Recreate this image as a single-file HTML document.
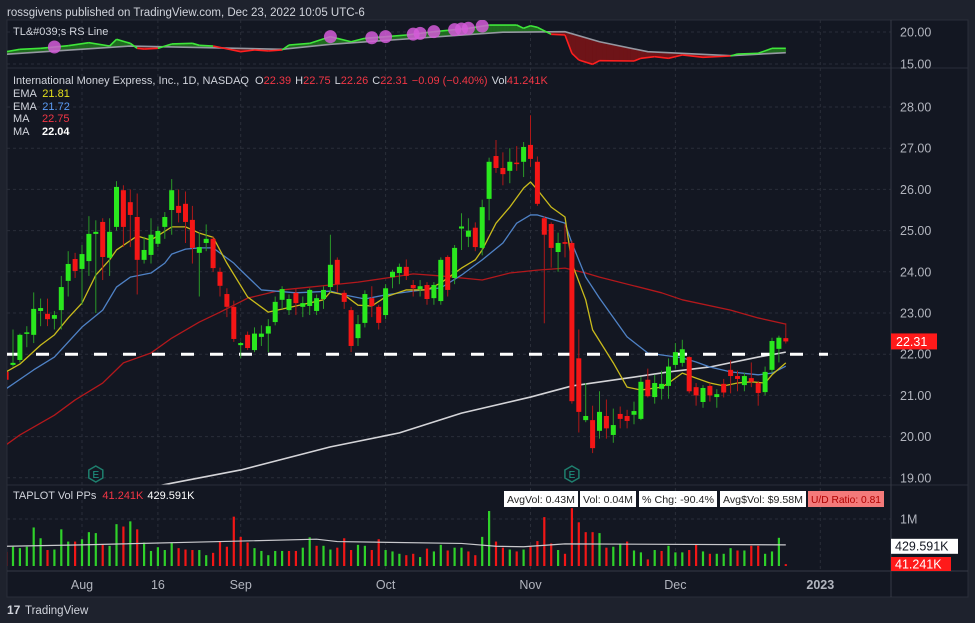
<!DOCTYPE html>
<html><head><meta charset="utf-8">
<style>
html,body{margin:0;padding:0;background:#1e222d;width:975px;height:623px;overflow:hidden;font-family:"Liberation Sans",sans-serif;}
svg text{font-family:"Liberation Sans",sans-serif;}
</style></head>
<body>
<svg id="chart" width="975" height="623" xmlns="http://www.w3.org/2000/svg">
  <rect x="0" y="0" width="975" height="623" fill="#1e222d"/>
  <text x="7" y="16" font-size="11.5" fill="#d1d4dc">rossgivens published on TradingView.com, Dec 23, 2022 10:05 UTC-6</text>
  <rect x="7" y="20" width="961" height="577" fill="#131722" stroke="#2a2e39"/>
  <g id="grid"></g>
  <g id="rs"></g>
  <g id="main"></g>
  <g id="vol"></g>
  <line x1="7" y1="68" x2="968" y2="68" stroke="#2a2e39"/>
  <line x1="7" y1="485" x2="968" y2="485" stroke="#2a2e39"/>
  <line x1="7" y1="571" x2="968" y2="571" stroke="#363a45"/>
  <line x1="891" y1="20" x2="891" y2="597" stroke="#363a45"/>
  <g id="axes"></g>
  <text x="13" y="35" font-size="11" fill="#d1d4dc">TL&amp;#039;s RS Line</text>
  <text x="13" y="84" font-size="11" fill="#d1d4dc">International Money Express, Inc., 1D, NASDAQ <tspan dx="3">O</tspan><tspan fill="#f23645">22.39</tspan><tspan dx="4">H</tspan><tspan fill="#f23645">22.75</tspan><tspan dx="4">L</tspan><tspan fill="#f23645">22.26</tspan><tspan dx="4">C</tspan><tspan fill="#f23645">22.31</tspan><tspan dx="4" fill="#f23645">−0.09 (−0.40%)</tspan><tspan dx="4">Vol</tspan><tspan fill="#f23645">41.241K</tspan></text>
  <text x="13" y="97" font-size="11" fill="#d1d4dc">EMA <tspan dx="3" fill="#e5e01c">21.81</tspan></text>
  <text x="13" y="110" font-size="11" fill="#d1d4dc">EMA <tspan dx="3" fill="#5b9cf6">21.72</tspan></text>
  <text x="13" y="122" font-size="11" fill="#d1d4dc">MA <tspan dx="10" fill="#f23645">22.75</tspan></text>
  <text x="13" y="135" font-size="11" fill="#d1d4dc">MA <tspan dx="10" fill="#ffffff" font-weight="bold">22.04</tspan></text>
  <text x="13" y="499" font-size="11" fill="#d1d4dc">TAPLOT Vol PPs <tspan dx="3" fill="#f23645">41.241K</tspan><tspan dx="4" fill="#ffffff">429.591K</tspan></text>
  <g font-size="10.5">
    <rect x="504" y="491" width="74" height="16" fill="#ffffff"/>
    <text x="507" y="503" fill="#222" textLength="68" lengthAdjust="spacingAndGlyphs">AvgVol: 0.43M</text>
    <rect x="580" y="491" width="56" height="16" fill="#ffffff"/>
    <text x="583" y="503" fill="#222" textLength="50" lengthAdjust="spacingAndGlyphs">Vol: 0.04M</text>
    <rect x="639" y="491" width="78" height="16" fill="#ffffff"/>
    <text x="642" y="503" fill="#222" textLength="72" lengthAdjust="spacingAndGlyphs">% Chg: -90.4%</text>
    <rect x="720" y="491" width="86" height="16" fill="#ffffff"/>
    <text x="723" y="503" fill="#222" textLength="80" lengthAdjust="spacingAndGlyphs">Avg$Vol: $9.58M</text>
    <rect x="808" y="491" width="76" height="16" fill="#f47a7a"/>
    <text x="811" y="503" fill="#b00000" textLength="70" lengthAdjust="spacingAndGlyphs">U/D Ratio: 0.81</text>
  </g>
  <g>
    <text x="7" y="614" font-size="12" font-weight="bold" fill="#d1d4dc">17</text>
    <text x="25" y="614" font-size="11.5" fill="#d1d4dc">TradingView</text>
  </g>
</svg>
<script>
// ---- data ----
const startIndex = -11; // bar index of first candle (0 = Aug 1)
const opens  = [21.57,21.74,21.86,22.5,22.47,23.05,22.98,22.86,23.07,23.78,24.31,24.07,24.26,24.92,25.21,24.34,25.09,25.98,25.69,25.33,24.29,24.41,24.68,25.09,25.5,25.6,25.65,25.26,24.46,24.7,24.8,24.0,23.46,23.15,22.22,22.47,22.1,22.42,22.5,22.78,23.32,23.07,23.49,23.15,23.17,23.05,23.34,23.63,24.29,23.49,23.07,22.39,22.76,23.36,23.15,22.95,23.87,23.97,24.12,23.68,23.58,23.68,23.36,23.29,24.36,23.85,25.05,24.85,25.07,24.58,25.77,26.81,26.52,26.45,26.65,26.67,27.08,26.67,25.3,25.16,24.48,24.72,24.7,21.9,20.4,20.4,20.14,20.5,20.04,20.55,20.5,20.53,20.43,21.38,20.96,21.16,21.23,21.74,21.79,21.93,21.2,20.84,21.23,20.96,21.28,21.62,21.47,21.25,21.42,21.3,21.08,21.62,22.13,22.39];
const highs  = [21.6,22.6,22.5,22.68,23.5,23.35,23.35,23.05,23.9,24.5,24.46,24.65,25.35,25.25,25.3,25.3,26.2,26.1,26.0,25.9,24.85,25.3,25.1,25.45,26.25,26.0,25.95,25.6,24.95,25.15,24.85,24.1,23.6,23.3,22.3,22.55,22.65,22.7,22.85,23.4,23.65,23.45,23.6,23.4,23.6,23.45,23.65,24.9,24.35,23.55,23.15,22.95,23.55,23.65,23.2,23.7,24.05,24.2,24.3,23.8,23.8,23.75,23.75,24.35,24.4,24.65,25.42,25.3,25.2,25.75,26.77,27.2,26.9,27.0,27.05,27.15,27.8,26.8,25.35,25.2,24.95,25.15,24.75,22.6,21.3,20.75,21.1,20.9,20.68,20.73,20.65,20.85,21.45,21.65,21.5,21.6,21.9,22.27,22.35,21.95,21.3,21.25,21.3,21.15,21.4,21.85,21.6,21.55,21.8,21.35,21.7,22.4,22.45,22.75];
const lows   = [21.35,21.7,21.8,22.17,22.27,22.68,22.68,22.6,22.6,23.4,23.85,23.2,23.9,23.0,23.8,23.9,25.0,24.6,24.6,23.45,24.2,24.2,24.6,24.8,24.9,25.2,24.7,24.2,23.4,24.5,24.0,23.4,22.9,22.3,21.9,22.1,22.05,22.2,22.05,22.7,23.1,22.95,22.95,22.9,22.95,22.95,23.1,23.5,23.5,23.1,22.05,22.2,22.65,22.9,22.6,22.85,23.6,23.7,23.8,23.4,23.4,23.2,23.2,23.2,23.4,23.7,24.53,24.6,24.5,24.4,25.25,26.4,26.1,26.15,26.45,26.3,26.55,25.6,22.75,24.1,24.0,24.35,20.8,20.1,20.35,19.6,19.95,19.95,19.85,20.2,20.2,20.3,20.4,20.95,20.8,20.9,20.92,21.65,21.7,21.05,20.75,20.7,20.85,20.7,20.95,21.05,21.1,21.1,21.2,20.75,21.0,21.55,21.8,22.26];
const closes = [21.38,21.79,22.47,22.53,23.1,23.12,22.85,22.95,23.63,24.19,24.02,24.43,24.92,24.97,24.36,24.97,26.06,25.09,25.38,24.29,24.53,24.9,24.99,25.33,25.98,25.43,25.21,24.58,24.6,24.8,24.09,23.66,23.15,22.37,22.27,22.15,22.5,22.5,22.68,23.27,23.58,23.34,23.24,23.24,23.56,23.36,23.56,24.17,23.7,23.27,22.2,22.73,23.46,23.17,22.76,23.6,24.0,24.12,23.9,23.6,23.65,23.34,23.68,24.29,23.56,24.58,25.1,25.0,24.6,25.57,26.67,26.52,26.37,26.67,26.62,27.03,26.74,25.65,24.9,24.58,24.7,24.68,20.86,20.6,20.5,19.72,20.6,20.2,20.28,20.43,20.38,20.62,21.33,20.98,21.3,21.28,21.7,22.05,22.12,21.1,21.0,21.18,21.0,21.03,21.07,21.47,21.4,21.47,21.33,21.06,21.57,22.32,22.4,22.31];
const volumesM = [0.30,0.41,0.38,0.41,0.82,0.59,0.34,0.35,0.78,0.52,0.52,0.57,0.72,0.70,0.45,0.43,0.89,0.84,0.95,0.78,0.50,0.32,0.40,0.34,0.50,0.38,0.35,0.34,0.34,0.23,0.28,0.53,0.41,1.05,0.62,0.50,0.38,0.32,0.23,0.32,0.32,0.32,0.32,0.39,0.61,0.43,0.43,0.35,0.39,0.59,0.34,0.45,0.43,0.34,0.57,0.34,0.31,0.26,0.23,0.26,0.19,0.37,0.31,0.45,0.33,0.39,0.39,0.31,0.23,0.62,1.17,0.52,0.39,0.35,0.31,0.35,0.43,0.53,1.04,0.48,0.34,0.26,1.23,0.93,0.72,0.72,0.70,0.39,0.41,0.48,0.52,0.33,0.29,0.14,0.34,0.32,0.43,0.29,0.29,0.34,0.45,0.31,0.26,0.26,0.26,0.38,0.33,0.33,0.43,0.43,0.26,0.31,0.60,0.04];
const avgVolIdx = [-11,0,20,34,37,55,60,64,70,102];
const avgVolVal = [0.42,0.45,0.52,0.57,0.52,0.48,0.42,0.41,0.47,0.45];

const emaFastIdx = [-11,-9,-6,-4,-2,0,2,4,5,8,10,13,15,17,19,21,24,27,31,35,36,38,40,42,44,47,50,52,55,57,58,60,62,64,65,66,68,70,71,73,74,77,79,81,84,85,87,89,91,93,95,97,99,100,102];
const emaFastVal = [21.57,21.76,22.22,22.47,22.88,23.24,23.92,24.29,24.53,24.87,24.77,25.09,25.09,24.94,24.84,24.21,23.39,23.02,23.17,23.32,23.51,23.44,23.19,23.17,23.39,23.56,23.56,23.73,24.09,24.29,24.53,25.18,25.57,26.03,26.18,25.99,25.57,25.33,24.21,23.32,22.59,21.79,21.2,21.13,21.2,21.3,21.54,21.42,21.3,21.23,21.3,21.33,21.3,21.5,21.79];
const emaSlowIdx = [-11,-7,-4,0,3,5,7,10,12,13,15,17,19,22,23,26,31,36,38,41,44,48,52,55,58,61,63,65,66,70,71,73,75,79,82,87,89,91,94,98,100,102];
const emaSlowVal = [21.16,21.62,21.93,22.66,23.07,23.63,23.87,23.97,24.21,24.43,24.55,24.58,24.58,24.21,24.04,23.56,23.49,23.53,23.44,23.34,23.44,23.53,23.61,23.92,24.29,24.7,25.18,25.38,25.38,25.18,24.7,23.87,23.36,22.42,22.03,21.91,21.81,21.69,21.57,21.5,21.54,21.71];
const ma50Idx = [-11,-9,-4,-1,3,6,10,13,17,20,24,29,36,40,45,48,52,58,62,66,70,73,75,84,87,94,98,102];
const ma50Val = [19.8,20.04,20.52,20.89,21.3,21.79,22.03,22.39,22.78,23.02,23.36,23.56,23.68,23.75,23.87,23.95,23.9,23.8,23.97,24.04,24.09,23.97,23.87,23.49,23.32,23.07,22.88,22.73];
const ma200Idx = [5,13,23,36,46,55,65,71,79,85,91,98,102];
const ma200Val = [18.6,18.87,19.19,19.75,20.09,20.57,20.96,21.23,21.42,21.57,21.69,21.93,22.05];
const supportLevel = 22.0;

const rsIdx = [-11,-9,-6,-2,1,4,5,7,8,9,11,13,16,17,19,23,25,27,29,30,33,36,39,41,44,47,51,56,59,63,64,65,66,68,70,71,72,74,75,80,81,83,85,87,90,94,95,98,100,102];
const rsVal = [16.92,17.30,17.45,17.86,18.33,17.81,18.86,18.23,17.45,17.34,17.45,18.13,18.23,17.92,17.81,16.92,17.19,17.03,17.19,17.97,18.23,19.27,18.48,19.02,19.27,19.53,20.05,20.58,21.09,21.09,20.58,20.98,20.73,19.64,19.53,16.67,15.63,14.95,15.52,15.47,15.89,16.14,15.89,16.41,16.05,16.25,16.56,16.67,17.45,17.45];
const rsMaIdx = [-11,7,29,36,61,70,75,82,94,102];
const rsMaVal = [16.52,17.81,17.30,18.08,19.97,20.05,18.48,16.92,16.30,16.77];
const rsHighIdx = [-4,36,42,44,48,49,51,54,55,56,58];

const priceTicks = [28,27,26,25,24,23,22,21,20,19];
const rsTicks = [20,15];
const volTicks = [1];
const timeLabels = ["Aug","16","Sep","Oct","Nov","Dec","2023"];
const timeLabelIdx = [0,11,23,44,65,86,107];
const earningsIdx = [2,71];

// ---- scales ----
const X = i => 82 + 6.9*i;
const YP = p => 107 + (28-p)*41.2;
const YR = v => 32 + (20-v)*6.4;
const YV = m => 566 - m*47;
const NS = "http://www.w3.org/2000/svg";
function mk(tag, attrs, parent){ const e=document.createElementNS(NS,tag); for(const k in attrs) e.setAttribute(k,attrs[k]); parent.appendChild(e); return e; }
const svg = document.getElementById('chart');
const defs = mk('defs',{},svg);
const c1 = mk('clipPath',{id:'cRS'},defs); mk('rect',{x:7,y:20,width:884,height:48},c1);
const c2 = mk('clipPath',{id:'cMain'},defs); mk('rect',{x:7,y:68,width:884,height:417},c2);
const c3 = mk('clipPath',{id:'cVol'},defs); mk('rect',{x:7,y:485,width:884,height:86},c3);
function interp(idx, val, i){ if(i<=idx[0]) return val[0]; for(let k=1;k<idx.length;k++){ if(i<=idx[k]){ const t=(i-idx[k-1])/(idx[k]-idx[k-1]); return val[k-1]+t*(val[k]-val[k-1]); } } return val[val.length-1]; }

// ---- grid ----
const grid = document.getElementById('grid');
timeLabelIdx.forEach((ti,k)=>{
  const gl = mk('line',{x1:X(ti),x2:X(ti),y1:20,y2:571,stroke:'#2a2e39','stroke-dasharray':'3,3'},grid);
  
  
});
priceTicks.forEach(p=>{
  const gl = mk('line',{x1:7,x2:891,y1:YP(p),y2:YP(p),stroke:'#2a2e39','stroke-dasharray':'3,3'},grid);
  
  
});
rsTicks.forEach(v=>{
  const gl = mk('line',{x1:7,x2:891,y1:YR(v),y2:YR(v),stroke:'#2a2e39','stroke-dasharray':'3,3'},grid);
  
  
});
volTicks.forEach(v=>{
  const gl = mk('line',{x1:7,x2:891,y1:YV(v),y2:YV(v),stroke:'#2a2e39','stroke-dasharray':'3,3'},grid);
  
  
});

// ---- RS pane ----
const rs = document.getElementById('rs');
rs.setAttribute('clip-path','url(#cRS)');
const rsStart = rsIdx[0], rsEnd = rsIdx[rsIdx.length-1];
for(let i=rsStart;i<rsEnd;i+=0.5){
  const a=interp(rsIdx,rsVal,i), b=interp(rsIdx,rsVal,i+0.5), ma=interp(rsMaIdx,rsMaVal,i), mb=interp(rsMaIdx,rsMaVal,i+0.5);
  const up = (a+b)/2 >= (ma+mb)/2;
  const poly = mk('polygon',{points:`${X(i)},${YR(a)} ${X(i+0.5)},${YR(b)} ${X(i+0.5)},${YR(mb)} ${X(i)},${YR(ma)}`, fill: up?'#1f6b1f':'#6e1418', stroke: up?'#1f6b1f':'#6e1418','stroke-width':0.5},rs);
  
  
}
const rsMaPath = mk('polyline',{points:rsMaIdx.map((i,k)=>`${X(i)},${YR(rsMaVal[k])}`).join(' '),fill:'none',stroke:'#9598a1','stroke-width':1.6},rs);


for(let k=1;k<rsIdx.length;k++){
  const mid=(rsIdx[k]+rsIdx[k-1])/2;
  const up = (rsVal[k]+rsVal[k-1])/2 >= interp(rsMaIdx,rsMaVal,mid);
  const seg = mk('line',{x1:X(rsIdx[k-1]),y1:YR(rsVal[k-1]),x2:X(rsIdx[k]),y2:YR(rsVal[k]),stroke:up?'#3fe63a':'#ff1f1f','stroke-width':1.6},rs);
  
  
}
rsHighIdx.forEach(i=>{
  const c = mk('circle',{cx:X(i),cy:YR(interp(rsIdx,rsVal,i)),r:6.5,fill:'#d45bd8','fill-opacity':0.85},rs);
  
  
});

// ---- main pane ----
const main = document.getElementById('main');
main.setAttribute('clip-path','url(#cMain)');
function line(idx,val,color,w,name){
  const pl = mk('polyline',{points:idx.map((i,k)=>`${X(i)},${YP(val[k])}`).join(' '),fill:'none',stroke:color,'stroke-width':w,'stroke-linejoin':'round'},main);
  
  
}
line(ma200Idx,ma200Val,'#d4d4d8',1.6,'ma200-line');
line(ma50Idx,ma50Val,'#b3181c',1.3,'ma50-line');
line(emaSlowIdx,emaSlowVal,'#4f82c6',1.3,'ema-slow-line');
line(emaFastIdx,emaFastVal,'#c9bb1c',1.3,'ema-fast-line');
const sup = mk('line',{x1:7,x2:828,y1:YP(supportLevel),y2:YP(supportLevel),stroke:'#ffffff','stroke-width':3,'stroke-dasharray':'13,16'},main);


for(let k=0;k<opens.length;k++){
  const i=startIndex+k, x=X(i), up=closes[k]>=opens[k];
  const wk = mk('line',{x1:x,x2:x,y1:YP(highs[k]),y2:YP(lows[k]),stroke:up?'#2a9a28':'#b01818','stroke-width':1},main);
  
  
  const top=YP(Math.max(opens[k],closes[k])), bot=YP(Math.min(opens[k],closes[k]));
  const b = mk('rect',{x:x-2.5,y:top,width:5,height:Math.max(1.5,bot-top),fill:up?'#2ae81e':'#f41616'},main);
  
  
}
earningsIdx.forEach(i=>{
  const x=X(i), y=474;
  const h = mk('polygon',{points:`${x},${y-8} ${x+7},${y-4} ${x+7},${y+4} ${x},${y+8} ${x-7},${y+4} ${x-7},${y-4}`,fill:'#131722',stroke:'#1e7f6e','stroke-width':1.5},main);
  
  
  const t = mk('text',{x:x,y:y+4,'font-size':10,fill:'#1e9f88','text-anchor':'middle'},main);
  t.textContent='E';
  
  
});

// ---- volume pane ----
const vol = document.getElementById('vol');
vol.setAttribute('clip-path','url(#cVol)');
for(let k=0;k<volumesM.length;k++){
  const i=startIndex+k, x=X(i);
  const up = k===0 ? closes[k]>=opens[k] : closes[k]>=closes[k-1];
  const r = mk('rect',{x:x-1.1,y:YV(volumesM[k]),width:2.2,height:YV(0)-YV(volumesM[k]),fill:up?'#2fd12a':'#f21616'},vol);
  
  
}
const av = mk('polyline',{points:avgVolIdx.map((i,k)=>`${X(i)},${YV(avgVolVal[k])}`).join(' '),fill:'none',stroke:'#c8c8cc','stroke-width':1.2},vol);



// ---- axes ----
const axes = document.getElementById('axes');
function axText(x,y,str,name,extra){
  const t = mk('text',Object.assign({x:x,y:y,'font-size':12.5,fill:'#b2b5be'},extra||{}),axes);
  t.textContent=str;
  
  
  return t;
}
rsTicks.forEach(v=>axText(900,YR(v)+4.5,v.toFixed(2),'rs-axis-label'));
priceTicks.forEach(p=>axText(900,YP(p)+4.5,p.toFixed(2),'price-axis-label'));
volTicks.forEach(v=>axText(900,YV(v)+4.5,v+'M','volume-axis-label'));
timeLabels.forEach((s,k)=>axText(X(timeLabelIdx[k]),589,s,'time-axis-label',{'text-anchor':'middle','font-weight':s==='2023'?'bold':'normal'}));
const lastClose = closes[closes.length-1];
const pb = mk('rect',{x:891,y:YP(lastClose)-8,width:46,height:16,fill:'#ff1a1a'},axes);


axText(896,YP(lastClose)+4.5,lastClose.toFixed(2),'last-price-text',{fill:'#ffffff'});
const avgLast = 0.4296;
const ab = mk('rect',{x:891,y:YV(avgLast)-7,width:67,height:15,fill:'#ffffff'},axes);


axText(895,YV(avgLast)+4.5,'429.591K','avg-volume-badge-text',{fill:'#131722'});
const vb = mk('rect',{x:891,y:557,width:60,height:14,fill:'#ff1a1a'},axes);


axText(895,568.5,'41.241K','last-volume-badge-text',{fill:'#ffffff'});
</script>
</body></html>
